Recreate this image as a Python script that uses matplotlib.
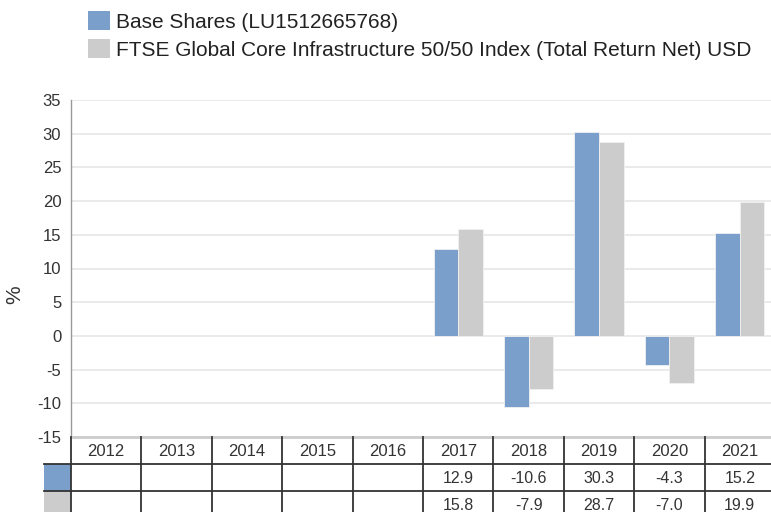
import numpy as np
import matplotlib.pyplot as plt
from matplotlib.patches import Patch, Rectangle

plt.rcParams['font.family'] = ['Liberation Sans', 'DejaVu Sans']
plt.rcParams['axes.unicode_minus'] = False

years = ["2012", "2013", "2014", "2015", "2016", "2017", "2018", "2019", "2020", "2021"]
base_shares = [np.nan, np.nan, np.nan, np.nan, np.nan, 12.9, -10.6, 30.3, -4.3, 15.2]
index_ftse = [np.nan, np.nan, np.nan, np.nan, np.nan, 15.8, -7.9, 28.7, -7.0, 19.9]
series_names = ["Base Shares (LU1512665768)",
                "FTSE Global Core Infrastructure 50/50 Index (Total Return Net) USD"]
colors = ["#7a9fcb", "#cccccc"]

W, H = 771, 512
fig = plt.figure(figsize=(W / 100, H / 100), dpi=100)

# plot area in pixels
left, right, top, bottom = 71, 775, 100, 437
ax = fig.add_axes([left / W, 1 - bottom / H, (right - left) / W, (bottom - top) / H])

x = np.arange(len(years))
bw = 0.35
ax.bar(x - bw / 2, base_shares, bw, color=colors[0], edgecolor="#f0f0f0", linewidth=0.6, zorder=3)
ax.bar(x + bw / 2, index_ftse, bw, color=colors[1], edgecolor="#f0f0f0", linewidth=0.6, zorder=3)

ax.set_xlim(-0.5, len(years) - 0.5)
ax.set_ylim(-15, 35)
ax.set_yticks(np.arange(-15, 36, 5))
ax.set_xticks([])
ax.tick_params(axis="y", length=0, labelsize=12, labelcolor="#333333", pad=7)
ax.yaxis.grid(True, color="#e6e6e6", linewidth=1.2, zorder=0)
for s in ["top", "right", "bottom"]:
    ax.spines[s].set_visible(False)
ax.spines["left"].set_color("#999999")
ax.spines["left"].set_linewidth(1)
ax.axhline(-15, color="#cccccc", linewidth=2, zorder=4, clip_on=False)
fig.text(15 / W, 1 - 295 / H, "%", rotation=90, ha="center", va="center",
         fontsize=15, color="#333333")

# table below the plot
row_h = 27
tax = fig.add_axes([left / W, 1 - (bottom + 3 * row_h) / H, (right - left) / W, 3 * row_h / H])
tax.set_xlim(-0.5, len(years) - 0.5)
tax.set_ylim(3, 0)
tax.axis("off")
sw = 27 / ((right - left) / len(years))  # swatch column width in data units
line_kw = dict(color="#333333", linewidth=1.3, clip_on=False)
for i in range(len(years) + 1):
    tax.plot([i - 0.5, i - 0.5], [0, 3], **line_kw)
for r in [1, 2, 3]:
    tax.plot([-0.5 - sw, len(years) - 0.5], [r, r], **line_kw)
for k, c in enumerate(colors):
    tax.add_patch(Rectangle((-0.5 - sw, 1 + k), sw, 1, facecolor=c, edgecolor="none", clip_on=False))
for i, yr in enumerate(years):
    tax.text(i, 0.55, yr, ha="center", va="center", fontsize=12, color="#333333")
    for k, vals in enumerate([base_shares, index_ftse]):
        if not np.isnan(vals[i]):
            tax.text(i, 1.55 + k, f"{vals[i]:.1f}", ha="center", va="center", fontsize=11.5, color="#333333")

handles = [Patch(facecolor=c, edgecolor="none") for c in colors]
fig.legend(handles, series_names, loc="upper left", bbox_to_anchor=(88 / W, 1 - 11 / H),
           frameon=False, fontsize=15, handlelength=1.05, handleheight=1.05,
           handletextpad=0.3, labelspacing=0.35, borderaxespad=0, borderpad=0,
           labelcolor="#222222")

fig.savefig("out.png", dpi=100)
